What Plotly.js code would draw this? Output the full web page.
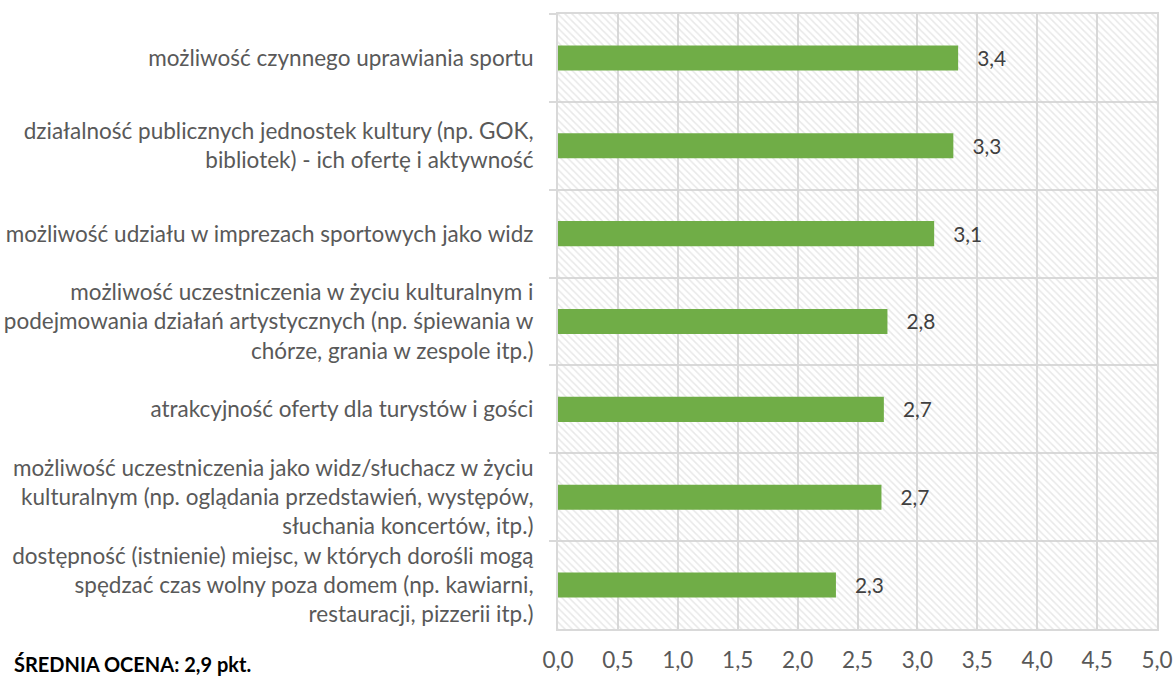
<!DOCTYPE html>
<html>
<head>
<meta charset="utf-8">
<script src="https://cdn.plot.ly/plotly-3.0.1.min.js"></script>
<style>html,body{margin:0;padding:0;background:#fff;}#chart{width:1174px;height:677px;}</style>
</head>
<body>
<div id="chart"></div>
<script>
// Categories, top to bottom
const categories = [
  "możliwość czynnego uprawiania sportu",
  "działalność publicznych jednostek kultury (np. GOK,<br>bibliotek) - ich ofertę i aktywność",
  "możliwość udziału w imprezach sportowych jako widz",
  "możliwość uczestniczenia w życiu kulturalnym i<br>podejmowania działań artystycznych (np. śpiewania w<br>chórze, grania w zespole itp.)",
  "atrakcyjność oferty dla turystów i gości",
  "możliwość uczestniczenia jako widz/słuchacz w życiu<br>kulturalnym (np. oglądania przedstawień, występów,<br>słuchania koncertów, itp.)",
  "dostępność (istnienie) miejsc, w których dorośli mogą<br>spędzać czas wolny poza domem (np. kawiarni,<br>restauracji, pizzerii itp.)"
];
const values = [3.34, 3.30, 3.14, 2.75, 2.72, 2.70, 2.32];
const valueLabels = ["3,4", "3,3", "3,1", "2,8", "2,7", "2,7", "2,3"];
const xMax = 5;
const xTickVals = [0, 0.5, 1, 1.5, 2, 2.5, 3, 3.5, 4, 4.5, 5];
const summaryText = "ŚREDNIA OCENA: 2,9 pkt.";

const font = "Lato, 'Open Sans', sans-serif";
const grid = "#d9d9d9";

const hatch = {
  type: "bar", orientation: "h",
  y: categories, x: categories.map(() => xMax),
  width: 1,
  marker: {color: "rgba(255,255,255,0)", line: {width: 0},
    pattern: {shape: "\\", fgcolor: "#d2d2d2", bgcolor: "rgba(255,255,255,0)", size: 5, solidity: 0.3, fillmode: "overlay"}},
  hoverinfo: "skip", showlegend: false
};
const bars = {
  type: "bar", orientation: "h",
  y: categories, x: values,
  width: 0.285,
  marker: {color: "#70ad47", line: {width: 0}},
  text: valueLabels.map(t => "\u00a0\u00a0\u00a0" + t), textposition: "outside", cliponaxis: false,
  textfont: {family: font, size: 22.5, color: "#404040"},
  showlegend: false
};

const layout = {
  width: 1174, height: 677,
  margin: {l: 558, r: 17, t: 14, b: 48},
  paper_bgcolor: "#fff", plot_bgcolor: "#fff",
  barmode: "overlay",
  separators: ", ",
  font: {family: font, color: "#595959", size: 22.5},
  xaxis: {
    range: [0, xMax], tickvals: xTickVals, tickformat: ".1f",
    showgrid: true, gridcolor: grid, gridwidth: 2,
    showline: true, linecolor: grid, linewidth: 2, mirror: true,
    ticks: "", zeroline: false, ticklabelstandoff: 10,
    tickfont: {family: font, size: 22.5, color: "#595959"}, fixedrange: true
  },
  yaxis: {
    type: "category", autorange: "reversed", tickson: "boundaries",
    showgrid: true, gridcolor: grid, gridwidth: 2,
    showline: true, linecolor: grid, linewidth: 2, mirror: true,
    ticks: "outside", ticklen: 7, tickcolor: grid, tickwidth: 2,
    ticklabelstandoff: 18,
    tickfont: {family: font, size: 22.5, color: "#595959"}, fixedrange: true
  },
  annotations: [{
    xref: "paper", yref: "paper",
    x: (12 - 558) / (1174 - 558 - 17), y: (629 - 664) / (629 - 14),
    xanchor: "left", yanchor: "middle",
    text: "<b>" + summaryText + "</b>", showarrow: false,
    font: {family: font, size: 20, color: "#000"}
  }]
};

Plotly.newPlot("chart", [hatch, bars], layout, {displayModeBar: false, staticPlot: true});
</script>
</body>
</html>
